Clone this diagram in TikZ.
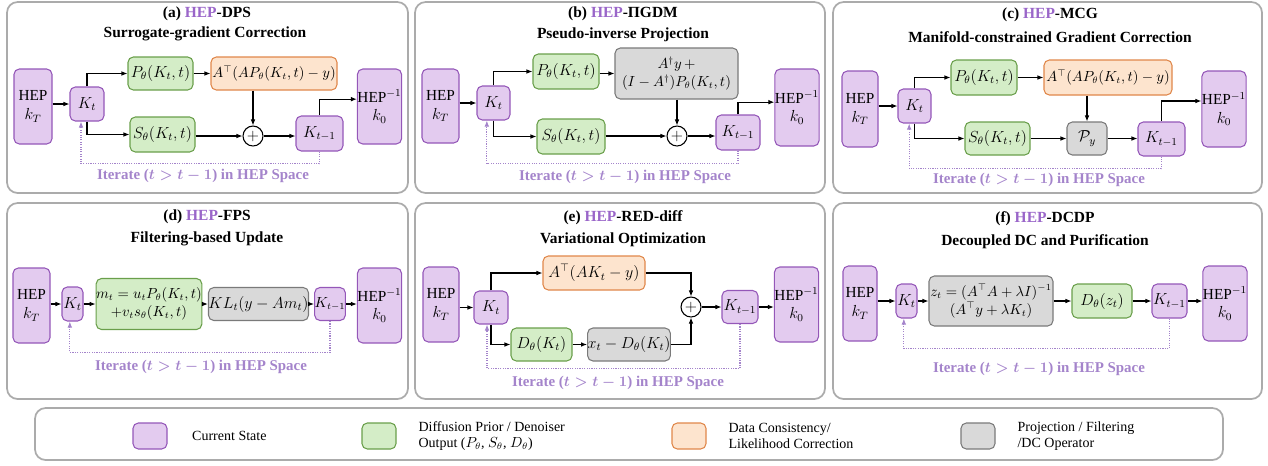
\documentclass[tikz,border=0pt]{standalone}
\usepackage{fontspec}
\setmainfont{Liberation Serif}
\usetikzlibrary{arrows.meta,positioning,calc}

\definecolor{curfill}{HTML}{E3CBEF}
\definecolor{curdraw}{HTML}{9457B8}
\definecolor{priorfill}{HTML}{D4EDC7}
\definecolor{priordraw}{HTML}{6A9F4B}
\definecolor{dcfill}{HTML}{FDE4CE}
\definecolor{dcdraw}{HTML}{E0874A}
\definecolor{projfill}{HTML}{D9D9D9}
\definecolor{projdraw}{HTML}{7A7A7A}
\definecolor{panelgray}{HTML}{ABABAB}
\definecolor{heppurple}{HTML}{9A66C9}
\definecolor{iterc}{HTML}{A484CB}

\begin{document}
\begin{tikzpicture}[
  x=0.75pt, y=-0.75pt,
  font=\fontsize{11.5}{14}\selectfont,
  panel/.style={draw=panelgray, line width=1.3pt, rounded corners=8pt},
  wh/.style 2 args={minimum width=#1*0.75pt, minimum height=#2*0.75pt},
  box/.style={draw, rounded corners=4pt, inner sep=0pt, align=center, line width=0.8pt},
  cur/.style={box, fill=curfill, draw=curdraw},
  prior/.style={box, fill=priorfill, draw=priordraw},
  dc/.style={box, fill=dcfill, draw=dcdraw},
  proj/.style={box, fill=projfill, draw=projdraw},
  tight/.style={font=\fontsize{10.5}{13.5}\selectfont},
  sumnode/.style={circle, draw, line width=0.8pt, fill=white, inner sep=0pt, minimum size=15pt},
  arr/.style={-{Latex[length=4.5pt,width=3.5pt]}, line width=0.8pt},
  iter/.style={-{Latex[length=4.5pt,width=3.5pt]}, densely dotted, draw=iterc, line width=0.8pt},
  ttl/.style={font=\fontsize{11.6}{14}\selectfont\bfseries},
  itertext/.style={font=\fontsize{11.2}{14}\selectfont\bfseries, text=iterc},
  legtext/.style={anchor=west, align=left, font=\fontsize{10.5}{11.5}\selectfont}
]
\useasboundingbox (0,0) rectangle (1268,465);

% (a) DPS
\draw[panel] (7,2) rectangle (408,193);
\node[ttl] (tta) at (207,14) {(a) \textcolor{heppurple}{HEP}-DPS};
\node[ttl] (sta) at (205,34) {Surrogate-gradient Correction};
\node[cur, wh={38}{75}] (hepa) at (33,106.5) {HEP\\$k_T$};
\node[cur, wh={34}{34}] (kta) at (87,104) {$K_t$};
\node[prior, wh={65}{33}] (pa) at (160.5,73.5) {$P_\theta(K_t,t)$};
\node[dc, tight, wh={126}{33}] (ata) at (274,73.5) {$A^{\top}(AP_\theta(K_t,t)-y)$};
\node[prior, wh={65}{35}] (sa) at (162.5,134.5) {$S_\theta(K_t,t)$};
\node[sumnode] (suma) at (253,136) {$+$};
\node[cur, wh={47}{35}] (kpa) at (319.5,133.5) {$K_{t-1}$};
\node[cur, wh={41}{75}] (inva) at (379.5,106.5) {HEP$^{-1}$\\$k_0$};
\draw[arr] (hepa.east |- kta) -- (kta);
\draw[arr] (kta.north) |- (pa);
\draw[arr] (kta.south) |- (sa);
\draw[arr] (pa) -- (ata);
\draw[arr] (ata.south -| suma) -- (suma);
\draw[arr] (sa.east |- suma) -- (suma);
\draw[arr] (suma) -- (suma -| kpa.west);
\draw[arr] (kpa.north) |- ([yshift=5.5pt]inva.west);
\draw[iter] (kpa.south) -- ++(0,12) -| ([xshift=-4.5pt]kta.south);
\node[itertext] (ita) at (203,176) {Iterate ({\boldmath$t > t-1$}) in HEP Space};

% (b) PiGDM
\draw[panel] (415,2) rectangle (825,193);
\node[ttl] (ttb) at (623,14) {(b) \textcolor{heppurple}{HEP}-ΠGDM};
\node[ttl] (stb) at (623,35) {Pseudo-inverse Projection};
\node[cur, wh={37}{74}] (hepb) at (440.5,106) {HEP\\$k_T$};
\node[cur, wh={33}{34}] (ktb) at (493.5,103) {$K_t$};
\node[prior, wh={66}{35}] (pb) at (566,71.5) {$P_\theta(K_t,t)$};
\node[proj, tight, wh={123}{51}] (gb) at (676.5,73.5) {$A^{\dagger}y\,+$\\$(I-A^{\dagger})P_\theta(K_t,t)$};
\node[prior, wh={68}{35}] (sb) at (571,136.5) {$S_\theta(K_t,t)$};
\node[sumnode] (sumb) at (677,136) {$+$};
\node[cur, wh={44}{35}] (kpb) at (738,132.5) {$K_{t-1}$};
\node[cur, wh={42}{77}] (invb) at (797,107.5) {HEP$^{-1}$\\$k_0$};
\draw[arr] (hepb.east |- ktb) -- (ktb);
\draw[arr] (ktb.north) |- (pb);
\draw[arr] (ktb.south) |- (sb);
\draw[arr] (pb.east |- gb) -- (gb);
\draw[arr] (gb.south -| sumb) -- (sumb);
\draw[arr] (sb.east |- sumb) -- (sumb);
\draw[arr] (sumb) -- (sumb -| kpb.west);
\draw[arr] (kpb.north) |- ([yshift=4pt]invb.west);
\draw[iter] (kpb.south) -- ++(0,13) -| ([xshift=-5pt]ktb.south);
\node[itertext] (itb) at (625,177) {Iterate ({\boldmath$t > t-1$}) in HEP Space};

% (c) MCG
\draw[panel] (833,2) rectangle (1262,193);
\node[ttl] (ttc) at (1050,15) {(c) \textcolor{heppurple}{HEP}-MCG};
\node[ttl] (stc) at (1050,37) {Manifold-constrained Gradient Correction};
\node[cur, wh={36}{76}] (hepc) at (860,109) {HEP\\$k_T$};
\node[cur, wh={33}{34}] (ktc) at (914.5,106) {$K_t$};
\node[prior, wh={66}{35}] (pc) at (984,77.5) {$P_\theta(K_t,t)$};
\node[dc, tight, wh={128}{35}] (ac) at (1108,77.5) {$A^{\top}(AP_\theta(K_t,t)-y)$};
\node[prior, wh={65}{33}] (sc) at (997.5,138.5) {$S_\theta(K_t,t)$};
\node[proj, wh={40}{33}] (pyc) at (1087,138.5) {$\mathcal{P}_y$};
\node[cur, wh={47}{34}] (kpc) at (1161.5,139) {$K_{t-1}$};
\node[cur, wh={42}{76}] (invc) at (1224,109) {HEP$^{-1}$\\$k_0$};
\draw[arr] (hepc.east |- ktc) -- (ktc);
\draw[arr] (ktc.north) |- (pc);
\draw[arr] (ktc.south) |- (sc);
\draw[arr] (pc) -- (ac);
\draw[arr] (ac.south -| pyc) -- (pyc);
\draw[arr] (sc) -- (pyc);
\draw[arr] (pyc) -- (pyc -| kpc.west);
\draw[arr] (kpc.north) |- ([yshift=6pt]invc.west);
\draw[iter] (kpc.south) -- ++(0,12) -| ([xshift=-4pt]ktc.south);
\node[itertext] (itc) at (1039,180) {Iterate ({\boldmath$t > t-1$}) in HEP Space};

% (d) FPS
\draw[panel] (7,203) rectangle (408,399);
\node[ttl] (ttd) at (207,217) {(d) \textcolor{heppurple}{HEP}-FPS};
\node[ttl] (std) at (207,239) {Filtering-based Update};
\node[cur, wh={37}{75}] (hepd) at (31.5,305.5) {HEP\\$k_T$};
\node[cur, wh={21}{34}] (ktd) at (72.5,304) {$K_t$};
\node[prior, tight, wh={104}{51}] (md) at (149,304) {$m_t=u_tP_\theta(K_t,t)$\\$+v_ts_\theta(K_t,t)$};
\node[proj, wh={91}{33}] (kld) at (258.5,304) {$KL_t(y-Am_t)$};
\node[cur, tight, wh={28}{33}] (kpd) at (330,304) {$K_{t-1}$};
\node[cur, wh={41}{75}] (invd) at (379.5,305.5) {HEP$^{-1}$\\$k_0$};
\draw[arr] (hepd.east |- ktd) -- (ktd);
\draw[arr] (ktd) -- (md);
\draw[arr] (md) -- (kld);
\draw[arr] (kld) -- (kpd);
\draw[arr] (kpd) -- (kpd -| invd.west);
\draw[iter] (kpd.south) -- ++(0,31.5) -| ([xshift=-2pt]ktd.south);
\node[itertext] (itd) at (201,367) {Iterate ({\boldmath$t > t-1$}) in HEP Space};

% (e) RED-diff
\draw[panel] (415,203) rectangle (825,399);
\node[ttl] (tte) at (623,218) {(e) \textcolor{heppurple}{HEP}-RED-diff};
\node[ttl] (ste) at (623,240) {Variational Optimization};
\node[cur, wh={36}{75}] (hepe) at (441,304.5) {HEP\\$k_T$};
\node[cur, wh={34}{33}] (kte) at (491,307.5) {$K_t$};
\node[dc, wh={102}{34}] (ae) at (594,273) {$A^{\top}(AK_t-y)$};
\node[prior, wh={61}{33}] (de) at (541.5,344.5) {$D_\theta(K_t)$};
\node[proj, wh={78}{33}] (xe) at (629,344.5) {$x_t-D_\theta(K_t)$};
\node[sumnode] (sume) at (691,307) {$+$};
\node[cur, wh={36}{33}] (kpe) at (740,307) {$K_{t-1}$};
\node[cur, wh={43}{75}] (inve) at (796.5,304.5) {HEP$^{-1}$\\$k_0$};
\draw[arr] (hepe.east |- kte) -- (kte);
\draw[arr] (kte.north) |- (ae);
\draw[arr] (kte.south) |- (de);
\draw[arr] (de) -- (xe);
\draw[arr] (ae) -| (sume);
\draw[arr] (xe) -| (sume);
\draw[arr] (sume) -- (kpe);
\draw[arr] (kpe) -- (kpe -| inve.west);
\draw[iter] (kpe.south) -- ++(0,44.5) -| ([xshift=-3pt]kte.south);
\node[itertext] (ite) at (618,383) {Iterate ({\boldmath$t > t-1$}) in HEP Space};

% (f) DCDP
\draw[panel] (833,203) rectangle (1262,399);
\node[ttl] (ttf) at (1045,219) {(f) \textcolor{heppurple}{HEP}-DCDP};
\node[ttl] (stf) at (1045,242) {Decoupled DC and Purification};
\node[cur, wh={34}{75}] (hepf) at (860,303.5) {HEP\\$k_T$};
\node[cur, wh={21}{34}] (ktf) at (906.5,301) {$K_t$};
\node[proj, tight, wh={124}{50}] (zf) at (991,301) {$z_t=(A^{\top}A+\lambda I)^{-1}$\\$(A^{\top}y+\lambda K_t)$};
\node[prior, wh={60}{34}] (df) at (1102,301) {$D_\theta(z_t)$};
\node[cur, wh={35}{34}] (kpf) at (1169.5,301) {$K_{t-1}$};
\node[cur, wh={42}{75}] (invf) at (1225,303.5) {HEP$^{-1}$\\$k_0$};
\draw[arr] (hepf.east |- ktf) -- (ktf);
\draw[arr] (ktf) -- (zf);
\draw[arr] (zf) -- (df);
\draw[arr] (df) -- (kpf);
\draw[arr] (kpf) -- (kpf -| invf.west);
\draw[iter] (kpf.south) -- ++(0,30) -| ([xshift=-2pt]ktf.south);
\node[itertext] (itf) at (1039,369) {Iterate ({\boldmath$t > t-1$}) in HEP Space};

% legend
\draw[panel] (35,408) rectangle (1223,460);
\node[cur, wh={34}{26}] (lcur) at (150,436) {};
\node[legtext, right=15pt of lcur] (tcur) {Current State};
\node[prior, wh={34}{26}] (lprior) at (379,436) {};
\node[legtext, right=13pt of lprior] (tprior) {Diffusion Prior / Denoiser\\Output ($P_\theta$, $S_\theta$, $D_\theta$)};
\node[dc, wh={34}{26}] (ldc) at (689,436) {};
\node[legtext, right=13pt of ldc] (tdc) {Data Consistency/\\Likelihood Correction};
\node[proj, wh={34}{26}] (lproj) at (978,436) {};
\node[legtext, right=13pt of lproj] (tproj) {Projection / Filtering\\/DC Operator};

\end{tikzpicture}
\end{document}
